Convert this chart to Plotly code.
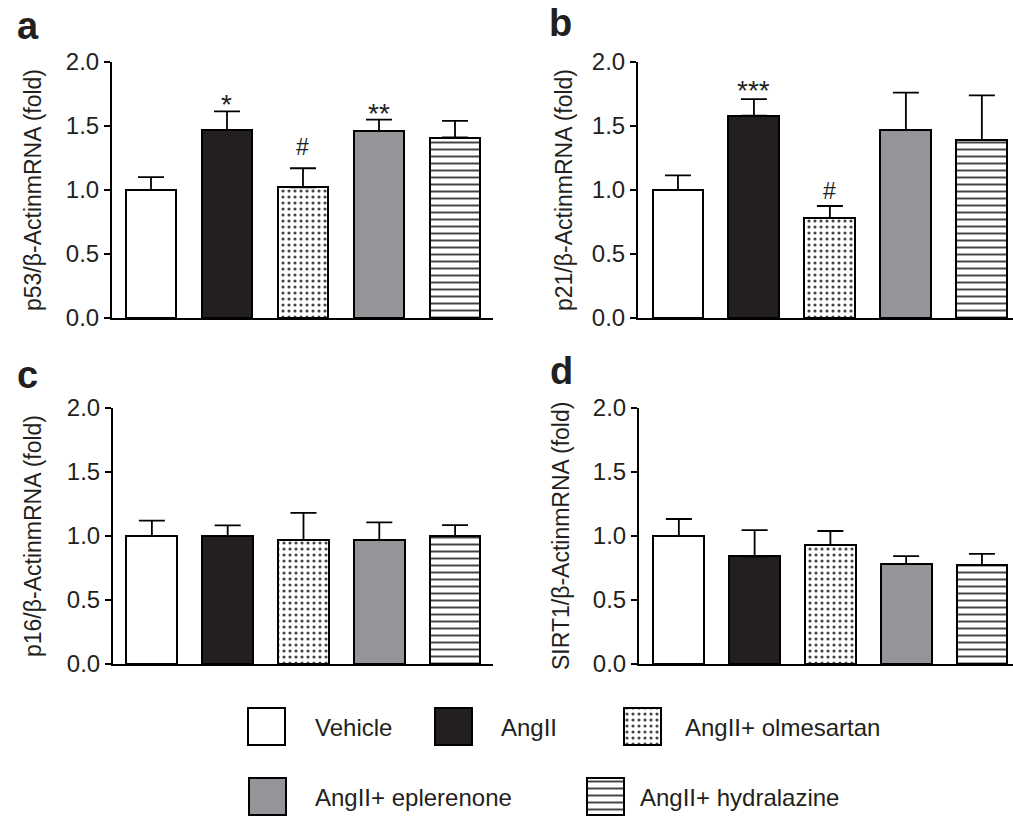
import plotly.graph_objects as go

# ---------------- data ----------------
groups = ["Vehicle", "AngII", "AngII+ olmesartan", "AngII+ eplerenone", "AngII+ hydralazine"]

p53_mean = [1.00, 1.47, 1.02, 1.46, 1.41]
p53_sem = [0.10, 0.145, 0.15, 0.09, 0.13]
p53_sig = ["", "*", "#", "**", ""]
p53_sig_y = [None, 1.727, 1.338, 1.664, None]

p21_mean = [1.00, 1.58, 0.78, 1.47, 1.39]
p21_sem = [0.115, 0.13, 0.095, 0.29, 0.35]
p21_sig = ["", "***", "#", "", ""]
p21_sig_y = [None, 1.838, 0.996, None, None]

p16_mean = [1.00, 1.00, 0.97, 0.97, 1.00]
p16_sem = [0.12, 0.083, 0.21, 0.137, 0.085]

sirt1_mean = [1.00, 0.84, 0.93, 0.78, 0.775]
sirt1_sem = [0.133, 0.206, 0.109, 0.062, 0.086]

panel_letters = ["a", "b", "c", "d"]
y_titles = ["p53/β-ActinmRNA (fold)", "p21/β-ActinmRNA (fold)",
            "p16/β-ActinmRNA (fold)", "SIRT1/β-ActinmRNA (fold)"]
y_ticks = [0.0, 0.5, 1.0, 1.5, 2.0]

# ---------------- style ----------------
W, H = 1013, 817
FONT = "Liberation Sans, Arial, Helvetica, sans-serif"
fills = ["#ffffff", "#231f20", "#ffffff", "#939598", "#ffffff"]
pat_shapes = ["", "", ".", "", "-"]
pat_sizes = [6, 6, 6, 6, 7]
pat_solid = [0.3, 0.3, 0.22, 0.3, 0.28]

def px_x(p):
    return p / W

def px_y(p):
    return 1 - p / H

panels = [
    dict(mean=p53_mean, sem=p53_sem, sig=p53_sig, sig_y=p53_sig_y,
         xd=[px_x(112), px_x(493)], yd=[px_y(318), px_y(62)], xr=[-0.513, 4.5],
         letter_xy=(15, 26), title_x=33),
    dict(mean=p21_mean, sem=p21_sem, sig=p21_sig, sig_y=p21_sig_y,
         xd=[px_x(638), 1.0], yd=[px_y(318), px_y(62)], xr=[-0.526, 4.41],
         letter_xy=(547, 23), title_x=564),
    dict(mean=p16_mean, sem=p16_sem, sig=None, sig_y=None,
         xd=[px_x(113), px_x(493)], yd=[px_y(664), px_y(408)], xr=[-0.513, 4.5],
         letter_xy=(15, 375), title_x=33),
    dict(mean=sirt1_mean, sem=sirt1_sem, sig=None, sig_y=None,
         xd=[px_x(639), 1.0], yd=[px_y(664), px_y(408)], xr=[-0.526, 4.41],
         letter_xy=(548, 371), title_x=561),
]

pattern = dict(shape=pat_shapes, fgcolor="black", fgopacity=1, size=pat_sizes,
               solidity=pat_solid, fillmode="overlay")

fig = go.Figure()
annotations = []
layout_axes = {}

for i, p in enumerate(panels):
    n = i + 1
    xa = "x" if n == 1 else f"x{n}"
    ya = "y" if n == 1 else f"y{n}"
    fig.add_trace(go.Bar(
        x=groups, y=p["mean"], xaxis=xa, yaxis=ya, width=0.67,
        marker=dict(color=fills, line=dict(color="black", width=2), pattern=pattern),
        error_y=dict(type="data", array=p["sem"], arrayminus=[0] * len(groups),
                     symmetric=False, color="black", thickness=1.8, width=13),
        showlegend=False, hoverinfo="skip",
    ))
    xname = "xaxis" if n == 1 else f"xaxis{n}"
    yname = "yaxis" if n == 1 else f"yaxis{n}"
    layout_axes[xname] = dict(domain=p["xd"], anchor=ya, range=p["xr"], type="category",
                              showticklabels=False, ticks="", showline=True,
                              linecolor="black", linewidth=2, showgrid=False,
                              zeroline=False, fixedrange=True, automargin=False)
    layout_axes[yname] = dict(domain=p["yd"], anchor=xa, range=[0, 2.0],
                              tickvals=y_ticks, tickformat=".1f", ticks="outside",
                              ticklen=6, tickwidth=2, tickcolor="black",
                              showline=True, linecolor="black", linewidth=2,
                              showgrid=False, zeroline=False,
                              tickfont=dict(size=24, color="#231f20", family=FONT),
                              fixedrange=True, automargin=False)
    annotations.append(dict(text=y_titles[i], xref="paper", yref="paper",
                            x=px_x(p["title_x"]), y=(p["yd"][0] + p["yd"][1]) / 2,
                            xanchor="center", yanchor="middle", textangle=-90,
                            showarrow=False, font=dict(size=23, color="#231f20", family=FONT)))
    lx, ly = p["letter_xy"]
    annotations.append(dict(text=f"<b>{panel_letters[i]}</b>", xref="paper", yref="paper",
                            x=px_x(lx), y=px_y(ly), xanchor="left", yanchor="middle",
                            showarrow=False, font=dict(size=38, color="#231f20", family=FONT)))
    if p["sig"] is not None:
        for g, s, sy in zip(groups, p["sig"], p["sig_y"]):
            if s:
                star = "*" in s
                annotations.append(dict(text=s, x=g, y=sy, xref=xa, yref=ya,
                                        xanchor="center", yanchor="middle",
                                        yshift=-8 if star else 0,
                                        showarrow=False,
                                        font=dict(size=28 if star else 23,
                                                  color="#231f20", family=FONT)))

# ---------------- custom legend (swatches drawn as bars on a hidden pixel axis) ----------------
LEG_H = 130
legend_cx = [266, 453, 642, 267.5, 605]
legend_top = [708, 708, 708, 778, 778]
legend_text_x = [313, 499, 683, 313, 638]
SW_W, SW_H = 37, 37

fig.add_trace(go.Bar(
    x=legend_cx, y=[SW_H] * 5, base=[H - t - SW_H for t in legend_top],
    width=[SW_W] * 5, xaxis="x5", yaxis="y5",
    marker=dict(color=fills, line=dict(color="black", width=2), pattern=pattern),
    showlegend=False, hoverinfo="skip",
))
layout_axes["xaxis5"] = dict(domain=[0, 1], anchor="y5", range=[0, W], visible=False,
                             fixedrange=True, automargin=False)
layout_axes["yaxis5"] = dict(domain=[0, LEG_H / H], anchor="x5", range=[0, LEG_H],
                             visible=False, fixedrange=True, automargin=False)
for g, tx, t in zip(groups, legend_text_x, legend_top):
    annotations.append(dict(text=g, xref="x5", yref="y5", x=tx, y=H - t - SW_H / 2 - 1,
                            xanchor="left", yanchor="middle", showarrow=False,
                            font=dict(size=24, color="#231f20", family=FONT)))

fig.update_layout(
    width=W, height=H, margin=dict(l=0, r=0, t=0, b=0, pad=0, autoexpand=False),
    paper_bgcolor="white", plot_bgcolor="rgba(0,0,0,0)",
    font=dict(family=FONT, color="#231f20"),
    annotations=annotations, bargap=0, **layout_axes,
)

fig.write_html(
    "out.html",
    config={"displayModeBar": False},
    post_script=("document.body.style.margin='0';document.body.style.overflow='hidden';"
                 "var d=document.getElementById('{plot_id}');"
                 "d.style.position='fixed';d.style.top='0px';d.style.left='0px';"),
)
